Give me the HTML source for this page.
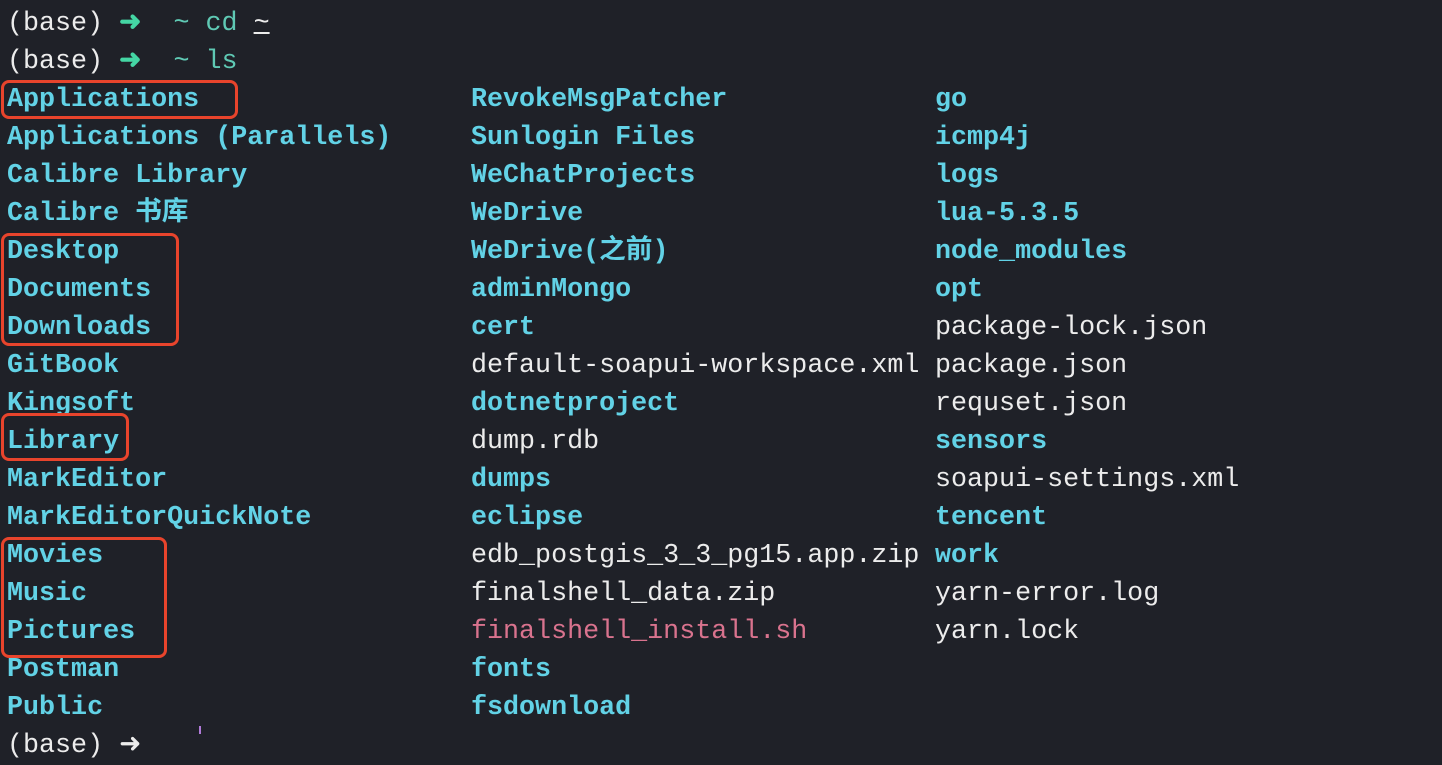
<!DOCTYPE html>
<html><head><meta charset="utf-8"><style>
html,body{margin:0;padding:0;background:#1f2128;width:1442px;height:734px;overflow:hidden}
.c{position:absolute;top:5px;font-family:"Liberation Mono","Noto Sans CJK SC",monospace;font-size:26.7px;line-height:38px;white-space:pre;color:#e6e6e6}
.b{color:#62d2e6;font-weight:bold}
.w{color:#ececec}
.p{color:#d9738e}
.g{color:#44d6a4;font-weight:bold}
.t{color:#5fc9b4}
.box{position:absolute;border:3px solid #e8442c;border-radius:8px;box-sizing:border-box}
</style></head><body>
<div class="c" style="left:7px"><span class="w">(base) </span><span class="g">➜</span>  <span class="t">~ cd </span><span class="w" style="text-decoration:underline">~</span>
<span class="w">(base) </span><span class="g">➜</span>  <span class="t">~ ls</span>
<span class="b">Applications
Applications (Parallels)
Calibre Library
Calibre 书库
Desktop
Documents
Downloads
GitBook
Kingsoft
Library
MarkEditor
MarkEditorQuickNote
Movies
Music
Pictures
Postman
Public</span>
<span class="w">(base) ➜</span></div>
<div class="c" style="left:471px;top:81px"><span class="b">RevokeMsgPatcher
Sunlogin Files
WeChatProjects
WeDrive
WeDrive(之前)
adminMongo
cert</span>
<span class="w">default-soapui-workspace.xml</span>
<span class="b">dotnetproject</span>
<span class="w">dump.rdb</span>
<span class="b">dumps
eclipse</span>
<span class="w">edb_postgis_3_3_pg15.app.zip
finalshell_data.zip</span>
<span class="p">finalshell_install.sh</span>
<span class="b">fonts
fsdownload</span></div>
<div class="c" style="left:935px;top:81px"><span class="b">go
icmp4j
logs
lua-5.3.5
node_modules
opt</span>
<span class="w">package-lock.json
package.json
requset.json</span>
<span class="b">sensors</span>
<span class="w">soapui-settings.xml</span>
<span class="b">tencent
work</span>
<span class="w">yarn-error.log
yarn.lock</span></div>
<div style="position:absolute;left:199px;top:726px;width:2px;height:8px;background:#b07ad8"></div>
<div class="box" style="left:1px;top:80px;width:237px;height:39px"></div>
<div class="box" style="left:1px;top:233px;width:178px;height:113px"></div>
<div class="box" style="left:1px;top:413px;width:128px;height:48px"></div>
<div class="box" style="left:1px;top:537px;width:166px;height:121px"></div>
</body></html>
